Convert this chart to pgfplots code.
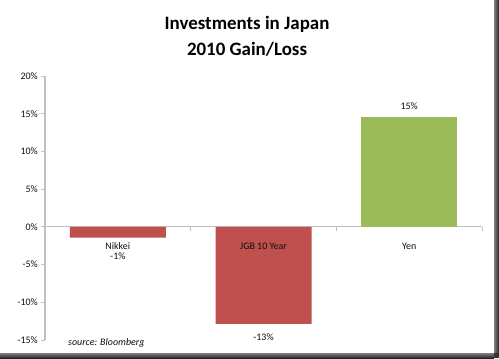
\documentclass[border=0pt]{standalone}
\usepackage{pgfplots}
\pgfplotsset{compat=1.18}
\usepackage{fontspec}
\setmainfont{Carlito}
\definecolor{barred}{HTML}{C0504D}
\definecolor{bargreen}{HTML}{9BBB59}
\definecolor{axgray}{HTML}{BFBFBF}
\definecolor{txt}{HTML}{101010}
\begin{document}
\begin{tikzpicture}[x=1bp,y=1bp]
\fill[white] (0,0) rectangle (499,358);
\shade[left color=black!50, right color=black!85] (494,5) rectangle (499,358);
\shade[top color=black!50, bottom color=black!85] (0,0) rectangle (494,5);
\fill[black!80] (494,0) rectangle (499,5);
\node[font=\bfseries\fontsize{19}{26}\selectfont, align=center, text=black] at (247,322) {Investments in Japan\\2010 Gain/Loss};
\begin{axis}[
  at={(45bp,18bp)}, anchor=south west,
  scale only axis, width=437bp, height=264bp,
  xmin=-0.5, xmax=2.5, ymin=-15, ymax=20,
  axis x line*=middle, axis y line*=left,
  axis line style={axgray, line width=1.2bp},
  xtick={-0.5,0.5,1.5,2.5}, xticklabels={},
  ytick={-15,-10,-5,0,5,10,15,20},
  yticklabel={\pgfmathprintnumber{\tick}\%},
  /pgf/number format/assume math mode=true,
  tick style={axgray, line width=0.8bp},
  major tick length=4bp,
  xtick align=outside, ytick align=outside,
  yticklabel style={font=\fontsize{10}{12}\selectfont, text=txt, inner sep=1bp, xshift=-2bp},
  ybar, bar width=96bp, bar shift=0pt,
  clip=false,
]
\addplot[fill=barred, draw=none] coordinates {(0,-1.42) (1,-12.85)};
\addplot[fill=bargreen, draw=none] coordinates {(2,14.6)};
\node[font=\fontsize{10}{12}\selectfont, text=txt] at (axis cs:0,-2.52) {Nikkei};
\node[font=\fontsize{10}{12}\selectfont, text=txt] at (axis cs:0,-3.84) {-1\%};
\node[font=\fontsize{10}{12}\selectfont, text=txt] at (axis cs:1,-2.52) {JGB 10 Year};
\node[font=\fontsize{10}{12}\selectfont, text=txt] at (axis cs:1,-14.57) {-13\%};
\node[font=\fontsize{10}{12}\selectfont, text=txt] at (axis cs:2,-2.52) {Yen};
\node[font=\fontsize{10}{12}\selectfont, text=txt] at (axis cs:2,16.0) {15\%};
\end{axis}
\node[font=\itshape\fontsize{10}{12}\selectfont, text=txt, anchor=west, inner sep=0pt] at (68,15) {source: Bloomberg};
\end{tikzpicture}
\end{document}
